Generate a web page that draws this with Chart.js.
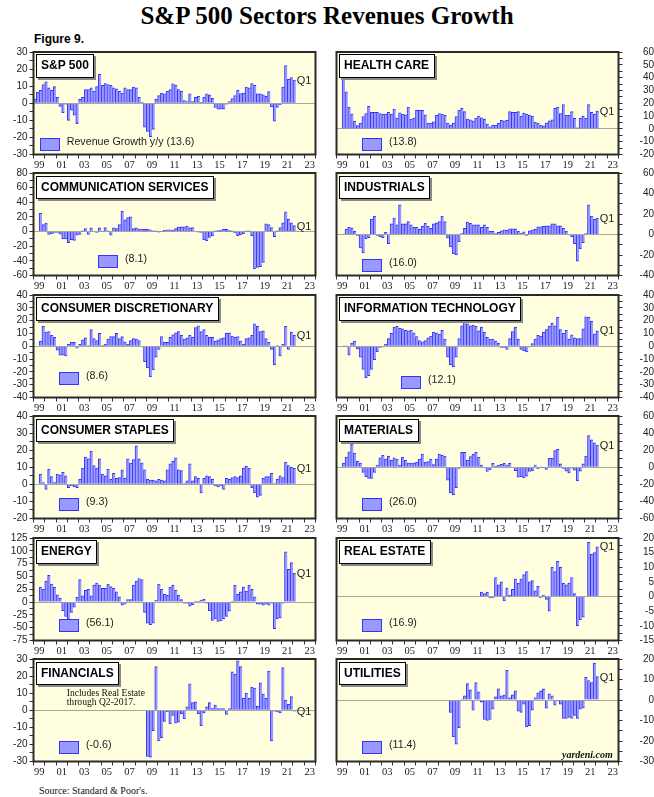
<!DOCTYPE html>
<html>
<head>
<meta charset="utf-8">
<script src="https://cdn.jsdelivr.net/npm/chart.js@4.4.1/dist/chart.umd.min.js"></script>
<style>
body{margin:0;background:#fff;width:654px;height:797px;position:relative;overflow:hidden;font-family:"Liberation Sans",Arial,sans-serif;color:#000}
canvas{position:absolute}
.ttl{position:absolute;left:0;top:3px;width:654px;text-align:center;font:bold 25px/25px "Liberation Serif","Times New Roman",serif}
.fig{position:absolute;left:34px;top:32.8px;font:bold 12px/12px "Liberation Sans",Arial,sans-serif}
.src{position:absolute;left:39px;top:785.6px;font:10px/10px "Liberation Serif","Times New Roman",serif;color:#111}
.box{position:absolute;background:#fff;border:1px solid #000;box-shadow:2px 2px 0 #888;font:bold 12px/21.5px "Liberation Sans",Arial,sans-serif;height:21.5px;padding:0 4.5px;white-space:nowrap}
.sw{position:absolute;width:18px;height:11px;background:#9999ff;border:1px solid #3333ff}
.lt{position:absolute;font:10.7px/14px "Liberation Sans",Arial,sans-serif;color:#222;white-space:nowrap}
.q1{position:absolute;font:11px/12px "Liberation Sans",Arial,sans-serif;color:#222}
.note{position:absolute;font:9.6px/9px "Liberation Serif","Times New Roman",serif;color:#111;white-space:nowrap}
.yd{position:absolute;font:italic bold 10px/10px "Liberation Serif","Times New Roman",serif;color:#111}
</style>
</head>
<body>
<div class="ttl">S&amp;P 500 Sectors Revenues Growth</div>
<div class="fig">Figure 9.</div>
<div class="src">Source: Standard &amp; Poor's.</div>
<script>

// year labels on the bottom axis (odd years)
const yearLabels=["99","01","03","05","07","09","11","13","15","17","19","21","23"]

// quarterly y/y revenue growth, %, first quarter given in panels[].start
const sp500=[2.5,6.5,7.5,11, 12.5,9,7.5,9.7, 3.5,-1.8,-5.5,-0.5, -10,-4,-7,-12, 2.3,3.5,8,8, 9,7,9.7,17,
10.5,11.5,11,10.5, 9,8.5,7,6, 9,8,8,9.5, 9,3.5,0.5,-14, -16.5,-19.5,-15.3,2.5, 4.5,6,5.5,7,
8,11.3,10.5,8, 7,1.5,1,5.5, 1,3.5,4,0.5, 3.5,5.5,5,3, -2.5,-3.5,-3.5,-3.5, -0.5,1,2.8,4.5,
7.5,5.7,6,9.5, 9,11.5,10.5,5.5, 5.5,5,4,6.8, -2,-10.5,-2.5,-1, 9.5,22,14,15, 13.6]

const healthCare=[39,29, 17,11.5,6,2.5, 4.5,9.5,12,17.5, 13,13,13,12, 11.5,11.5,13,11.5, 15.5,8.5,12.5,11.5,
11,17,7.7,8.5, 14.5,14.5,14.5,11, 4.6,4.6,5.5,10.5, 12,11.5,10.5,4.6, 3,4.6,9.5,14.5, 16,13.5,7.7,7,
6.2,8.5,10,8.7, 7.7,3.8,1.5,3, 3,4.6,6.7,6.2, 6.7,13.5,13,13, 13.5,10,12.3,11.5, 10.8,10,5.4,4.6,
3,2.3,4.6,6.2, 7,16,17,12, 19,10.5,10.5,13.5, 8.2,0.8,8.2,10, 8.2,19,13,11.5, 13.8]

const commServices=[25,9.5, 11.5,-4,-3,-2, -1,-3.5,-10,-10, -15,-11,-12,-5, -4,1,4,-4, 5,0,-1,5,
0.5,5.5,1,-5, 5,4,9.5,28, 16,19,20,4, 5,3.5,3.5,3, 3.5,2.5,1,1, -0.5,0.5,2,2.5,
2.5,2,4,6, 6.5,6.5,7.5,5, 5.5,0,-0.5,-1, -11,-12.5,-8,-6, 1,1.5,2,3.5, 3,1.5,1,-1.5,
-5.5,-4.5,-3,1, 1,-6,-51,-49, -48,-42,10.5,9.5, 5.5,-7,1,5.5, 12,27,17,12, 8.1]

const industrials=[0.5,5, 7,6.5,3,-1, -13,-18,-4,-3, 15,18,-1,-2, -3,2,-9,10.5, 16,9.5,29,10.5,
10.5,12.5,9.5,7, 7,5,8,11, 8,6,10.5,11.5, 12.5,18,12.5,-3.5, -12,-19,-20,-7, 1,6,12,11,
9.5,9.5,9.5,7, 9.5,7,3,3, 1,2,3.5,4.5, 4,5.5,5.5,5.5, 3,1.5,2.5,-1, 3.5,4.5,5,7.5,
7.5,8,8.5,8.5, 10.5,10.5,8.5,8.5, 6,3,-0.5,-2, -9,-26,-14,-8, 1,29,18,15, 16]

const consDiscretionary=[4,15.5, 11,11.5,8.5,7, -3,-7,-7,-7.5, 1.5,3,3,-1.5, 1.5,5,6.5,0.5, 13,6,4.5,10,
0.5,1.5,5.5,7.5, 7.5,10,6,7.5, 3.5,1.5,4.5,6, 5.5,4.5,0,-12, -17,-24,-18.5,-8.5, -2.5,7.5,3,3,
7,9,10.5,11.5, 8.5,5.5,6.5,8.5, 7,14.5,16,11.5, 13,8.5,7,7, 4,5,6,6.5, 10,10.5,8,7,
7.5,4,1.5,6, 6.5,8.5,17.5,15.5, 11.5,12,6,3, -2.5,-14.5,0.5,-7.5, 1.5,15.5,-2.5,11, 8.6]

const infoTech=[0.3,0.3, -7,2.5,4,-2, -8.5,-18,-24.5,-23, -18,-10.5,-4.5,-1, -0.5,1.5,6,10, 15,15.5,14,13.5,
12.5,12,12.5,10.5, 7.5,4.5,3.5,4.5, 6.5,8,11,10.5, 9.5,12.5,5.5,-8.5, -14.5,-16,-8.5,6, 16,20,17.5,16,
16.5,15.5,12,15, 11,7,5.5,5.5, 4,2.5,-1,-1, -2.5,6,11.5,15, 5.5,-2.5,-3.5,-4.5, -0.5,2,5.5,8.5,
8,11,13,15.5, 18,16,22.5,13, 10,12.5,5.5,9, 6.5,6,6,13.5, 23,22.5,19.5,9.5, 12.1]

const consStaples=[6,1, -3,9,4.5,1, 6,5.5,7,5, -2,-1,-1.5,-2, 3,9.5,16,15, 19.5,11,9.5,15,
6,5,9,3, 6.5,3.5,4,8.5, 3.5,15,12.5,14.5, 22.5,15,12.5,8.5, 3,2.5,2.5,2, 3,2.5,2,8.5,
12,13.5,15.5,8.5, 8,0.5,2,12, 2,4.5,3.5,-5, 3.5,5,4.5,3, -1,-1.5,-1,-3, 3.5,3,4,4.5,
4,5,9.5,10.5, 9.5,-2,-5,-7.5, -6.5,3.5,4.5,4.5, 6.5,0.5,3,5, 4,13,11,10, 9.3]

const materials=[5,12, 18,27,16.5,7, 5,-6,-11,-13, -13,-6,2.5,11, 14,9.5,13,8, 11,9.5,2.5,12,
8.5,5,5,5, 6,9.5,15.5,6, 6.5,9.5,3,9.5, 15.5,14,13,-15, -30,-32,-24,-1.5, 17.5,17.5,8.5,12.5,
15,17.5,12,2.5, 0,-5,-3,4.5, 1,2.5,3.5,4.5, 2.5,4.5,0,-4, -11.5,-11,-12.5,-10.5, -5,-4,2.5,-2,
0.5,-0.5,-2.5,10.5, 10.5,19.5,21,4, -1.5,-4.5,-6.5,-1, -3.5,-16,-4.5,4, 13,37,32,28.5, 26]

const energy=[29,25, 41,52,35,29, 14,8,-17,-28, -34,-20,-10,9, 44,12,23,25, 12,33,37,33,
27,27,35,30, 27,20,10,-6, -4,5,5,33, 41,46,44,-20, -41,-44,-41,4, 35,25,15,13,
29,33,23,13, 5,-2,-2,-8, -5,2,0.5,4, 6,-2,-17,-36, -33,-38,-37,-33, -28,-18,0.5,33,
15,20,29,21, 33,25,10,-4, -4,-6,-4,-6, -2,-52,-33,-31, -2,98,64,77, 56.1]

const realEstate=[1.5, 1,1.5,-0.5,-0.5, 6.5,4,5,-1.5, 3,0.5,2.5,6, 4.5,6,7.5,8.5, 5,5.5,2,3.5,
-0.5,0.5,-1,-5, 10,8.5,12,10, 4.5,4,4.5,6.5, 1,-10,-8,-7, 0,18.5,14.5,15, 17]

const financials=[-27,-27.5,-12,25.5, -18,-16,-6.5,-1, -8,-3,-7.5,-7, -2,-5,2,15.5, 4.5,5,-2,-9,
-1.5,2,4.5,1, 3,1,1,1, -2.5,1,22.5,21, 29,25.5,7,10, 7,13.5,13,2.5, 16,9.5,7,23,
-18,-0.5,-1,-1.5, 25,6,3.5,8, -0.6]

const utilities=[-6,-18,-21.5,-13.5, 0.5,2,8,5, -5,8.5,4,-1, -9.5,-10,-9.5,-4.5, 1.5,5.5,2,2.5,
14.5,1,2.5,4.5, -5.5,-6,-2,-13, -12.5,-5,1,3.5, 4.5,5.5,-4,3, 2,-2.5,-0.5,-2,
-9,-9,-8.5,-9, -7.5,-9,-4.5,-4, 11,9.5,8.5,18, 11.4]

const panels=[
{title:"S&P 500",data:sp500,start:"1999Q1",min:-30,max:30,step:10,col:0,row:0,legend:"Revenue Growth y/y (13.6)",lx:6.5,ly:88.8},
{title:"HEALTH CARE",data:healthCare,start:"1999Q3",min:-20,max:60,step:10,col:1,row:0,legend:"(13.8)",lx:25.8,ly:88.8},
{title:"COMMUNICATION SERVICES",data:commServices,start:"1999Q3",min:-60,max:80,step:20,col:0,row:1,legend:"(8.1)",lx:64.8,ly:84},
{title:"INDUSTRIALS",data:industrials,start:"1999Q3",min:-40,max:60,step:20,col:1,row:1,legend:"(16.0)",lx:25.8,ly:88.3},
{title:"CONSUMER DISCRETIONARY",data:consDiscretionary,start:"1999Q3",min:-40,max:40,step:10,col:0,row:2,legend:"(8.6)",lx:25.8,ly:79.5},
{title:"INFORMATION TECHNOLOGY",data:infoTech,start:"1999Q3",min:-40,max:40,step:10,col:1,row:2,legend:"(12.1)",lx:64.8,ly:83.5},
{title:"CONSUMER STAPLES",data:consStaples,start:"1999Q3",min:-20,max:40,step:10,col:0,row:3,legend:"(9.3)",lx:25.8,ly:84},
{title:"MATERIALS",data:materials,start:"1999Q3",min:-60,max:60,step:20,col:1,row:3,legend:"(26.0)",lx:25.8,ly:84},
{title:"ENERGY",data:energy,start:"1999Q3",min:-75,max:125,step:25,col:0,row:4,legend:"(56.1)",lx:25.8,ly:83.5},
{title:"REAL ESTATE",data:realEstate,start:"2011Q4",min:-15,max:20,step:5,col:1,row:4,legend:"(16.9)",lx:25.8,ly:83.5},
{title:"FINANCIALS",data:financials,start:"2009Q1",min:-30,max:30,step:10,col:0,row:5,legend:"(-0.6)",lx:25.8,ly:83.7},
{title:"UTILITIES",data:utilities,start:"2009Q1",min:-30,max:20,step:10,col:1,row:5,legend:"(11.4)",lx:25.8,ly:84.3}
]

const rowTops=[49.5,171,292.5,414,535.5,657]

const framePlugin={
id:"frame",
beforeDraw(c){
let a=c.chartArea,g=c.ctx
g.save()
g.fillStyle="#ffffe0"
g.fillRect(a.left,a.top,a.right-a.left,a.bottom-a.top)
g.restore()
},
afterDraw(c){
let a=c.chartArea,g=c.ctx
g.save()
g.strokeStyle="#2a2a2a"
g.lineWidth=2
g.strokeRect(a.left,a.top,a.right-a.left,a.bottom-a.top)
g.restore()
}
}

function addDiv(cls,text,x,y){
let d=document.createElement("div")
d.className=cls
d.textContent=text
d.style.left=x+"px"
d.style.top=y+"px"
document.body.appendChild(d)
return d
}

function makePanel(p){

let right=p.col===1
let cvLeft=right?332:0
let cvW=right?322:320
let frameL=right?336.5:33.5
let T=rowTops[p.row]
let cvTop=T-6

let cv=document.createElement("canvas")
cv.width=cvW
cv.height=125
cv.style.left=cvLeft+"px"
cv.style.top=cvTop+"px"
document.body.appendChild(cv)

let y0=parseInt(p.start.slice(0,4))
let q0=parseInt(p.start.slice(5))-1
let pts=p.data.map((v,i)=>({x:y0+(q0+i)*0.25+0.125,y:v}))

let chart=new Chart(cv,{
type:"bar",
data:{datasets:[{
data:pts,
backgroundColor:"#9999ff",
borderColor:"#3333ff",
borderWidth:{top:1,left:1,right:0,bottom:1},
borderSkipped:"start",
barPercentage:1,
categoryPercentage:1
}]},
options:{
responsive:false,
animation:false,
devicePixelRatio:1,
layout:{padding:{top:6,left:right?4.5:0,right:right?0:4.5,bottom:0}},
plugins:{legend:{display:false},tooltip:{enabled:false}},
scales:{
x:{
type:"linear",min:1999,max:2024,offset:false,
afterBuildTicks:s=>{s.ticks=[];for(let v=1999;v<=2024;v+=0.5)s.ticks.push({value:v})},
afterFit:s=>{s.height=14.5},
border:{display:false},
grid:{drawOnChartArea:false,offset:false,tickLength:4,tickColor:c=>Number.isInteger(c.tick.value)?"#333":"rgba(0,0,0,0)"},
ticks:{autoSkip:false,maxRotation:0,padding:0,color:"#222",font:{family:"Liberation Serif",size:10.5},
callback:v=>{let yr=Math.floor(v);return (v-yr===0.5&&yr%2===1)?yearLabels[(yr-1999)/2]:""}}
},
y:{
position:right?"right":"left",min:p.min,max:p.max,
afterBuildTicks:s=>{s.ticks=[];for(let v=p.min;v<=p.max;v+=p.step/2)s.ticks.push({value:v})},
afterFit:s=>{s.width=right?35.5:33.5},
border:{display:false},
grid:{color:c=>(c.tick&&c.tick.value===0)?"#a8a898":"rgba(0,0,0,0)",tickColor:"#333",tickLength:4},
ticks:{autoSkip:false,padding:2,crossAlign:right?"far":"near",color:"#222",font:{family:"Liberation Sans",size:10},
callback:v=>(v%p.step===0)?String(v):""}
}
}
},
plugins:[framePlugin]
})

// title box, legend swatch and text, Q1 marker
addDiv("box",p.title,frameL+2,T+4.5)
addDiv("sw","",frameL+p.lx,T+p.ly)
addDiv("lt",p.legend,frameL+p.lx+26.7,T+p.ly-4)

let last=p.data[p.data.length-1]
let qx=chart.scales.x.getPixelForValue(2022.25)+cvLeft+1
let qy=chart.scales.y.getPixelForValue(last)+cvTop
addDiv("q1","Q1",qx,qy-6)

return chart
}

panels.forEach(makePanel)

addDiv("note","Includes Real Estate",66.7,687.8)
addDiv("note","through Q2-2017.",66.7,696.8)
let yd=addDiv("yd","yardeni.com",0,750)
yd.style.left=(613-yd.offsetWidth)+"px"

</script>
</body>
</html>
